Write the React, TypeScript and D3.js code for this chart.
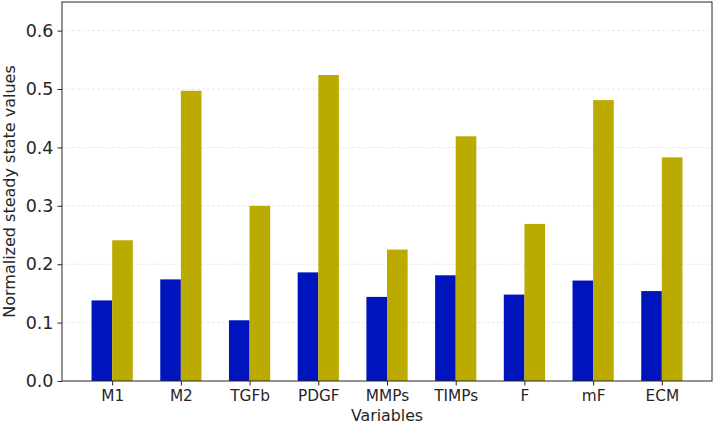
import React, { useEffect, useRef } from "react";
import * as d3 from "d3";

const variables = ["M1", "M2", "TGFb", "PDGF", "MMPs", "TIMPs", "F", "mF", "ECM"];
const blueValues = [0.138, 0.174, 0.104, 0.186, 0.144, 0.181, 0.148, 0.172, 0.154];
const goldValues = [0.241, 0.497, 0.3, 0.524, 0.225, 0.419, 0.269, 0.481, 0.383];
const yTicks = [0, 0.1, 0.2, 0.3, 0.4, 0.5, 0.6];

export default function App() {
  const ref = useRef<SVGSVGElement>(null);

  useEffect(() => {
    document.body.style.margin = "0";
    if (!ref.current) return;
    const svg = d3.select(ref.current);
    svg.selectAll("*").remove();

    const margin = { top: 2, right: 2, bottom: 43, left: 62 };
    const width = 714 - margin.left - margin.right;
    const height = 424 - margin.top - margin.bottom;
    const font = "DejaVu Sans, sans-serif";

    const g = svg.append("g").attr("transform", `translate(${margin.left},${margin.top})`);

    // matplotlib style: bar centers at 0..n-1, width 0.3 each, 5% margins
    const n = variables.length;
    const bw = 0.3;
    const lo = -bw;
    const hi = n - 1 + bw;
    const pad = (hi - lo) * 0.05;
    const x = d3.scaleLinear().domain([lo - pad, hi + pad]).range([0, width]);
    const y = d3.scaleLinear().domain([0, 0.649]).range([height, 0]);

    // grid
    g.append("g")
      .selectAll("line")
      .data(yTicks.slice(1))
      .enter()
      .append("line")
      .attr("x1", 0)
      .attr("x2", width)
      .attr("y1", (d) => y(d))
      .attr("y2", (d) => y(d))
      .attr("stroke", "#d0d0d0")
      .attr("stroke-width", 0.8)
      .attr("stroke-dasharray", "3,2")
      .attr("opacity", 0.6);

    // bars
    g.selectAll("rect.blue")
      .data(blueValues)
      .enter()
      .append("rect")
      .attr("class", "blue")
      .attr("x", (d, i) => x(i - bw))
      .attr("width", x(bw) - x(0))
      .attr("y", (d) => y(d))
      .attr("height", (d) => y(0) - y(d))
      .attr("fill", "#0014be");

    g.selectAll("rect.gold")
      .data(goldValues)
      .enter()
      .append("rect")
      .attr("class", "gold")
      .attr("x", (d, i) => x(i))
      .attr("width", x(bw) - x(0))
      .attr("y", (d) => y(d))
      .attr("height", (d) => y(0) - y(d))
      .attr("fill", "#bbaa00");

    // frame
    g.append("rect")
      .attr("width", width)
      .attr("height", height)
      .attr("fill", "none")
      .attr("stroke", "#262626")
      .attr("stroke-width", 1);

    // y axis
    const yAxis = g
      .append("g")
      .call(d3.axisLeft(y).tickValues(yTicks).tickFormat(d3.format(".1f")).tickSize(4.5).tickPadding(4));
    yAxis.select(".domain").remove();
    yAxis.selectAll("line").attr("stroke", "#262626");
    yAxis.selectAll("text").attr("fill", "#262626").style("font-family", font).style("font-size", "17.5px");

    // x axis
    const xAxis = g
      .append("g")
      .attr("transform", `translate(0,${height})`)
      .call(
        d3
          .axisBottom(x)
          .tickValues(d3.range(n))
          .tickFormat((d) => variables[d as number])
          .tickSize(4.5)
          .tickPadding(5)
      );
    xAxis.select(".domain").remove();
    xAxis.selectAll("line").attr("stroke", "#262626");
    xAxis.selectAll("text").attr("fill", "#262626").style("font-family", font).style("font-size", "15.3px");

    // labels
    svg
      .append("text")
      .attr("x", margin.left + width / 2)
      .attr("y", 421)
      .attr("text-anchor", "middle")
      .attr("fill", "#262626")
      .style("font-family", font)
      .style("font-size", "15.8px")
      .text("Variables");

    svg
      .append("text")
      .attr("transform", `translate(15,${margin.top + height / 2}) rotate(-90)`)
      .attr("text-anchor", "middle")
      .attr("fill", "#262626")
      .style("font-family", font)
      .style("font-size", "16px")
      .text("Normalized steady state values");
  }, []);

  return <svg ref={ref} width={714} height={424} style={{ display: "block", background: "#fff" }} />;
}
